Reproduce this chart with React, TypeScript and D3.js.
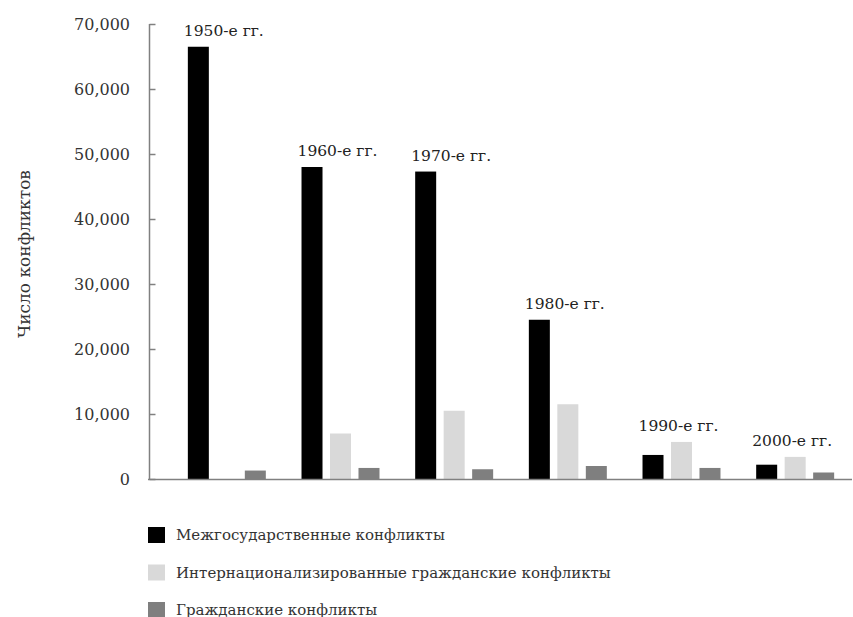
import React from "react";
import * as d3 from "d3";

const decades = ["1950-е гг.", "1960-е гг.", "1970-е гг.", "1980-е гг.", "1990-е гг.", "2000-е гг."];
const seriesNames = [
  "Межгосударственные конфликты",
  "Интернационализированные гражданские конфликты",
  "Гражданские конфликты",
];
const interstate = [66500, 48000, 47300, 24500, 3700, 2200];
const internationalized = [0, 7000, 10500, 11500, 5700, 3400];
const civil = [1300, 1700, 1500, 2000, 1700, 1000];
const yTicks = [0, 10000, 20000, 30000, 40000, 50000, 60000, 70000];
const colors = ["#000000", "#d9d9d9", "#7f7f7f"];
const yTitle = "Число конфликтов";

const W = 853;
const H = 617;
const FONT = "'DejaVu Serif', 'Liberation Serif', serif";

export default function App() {
  const series = [interstate, internationalized, civil];
  const y = d3.scaleLinear().domain([0, 70000]).range([479, 24]);
  const x0 = d3.scaleBand<string>().domain(decades).range([170, 852]).paddingInner(0.314).paddingOuter(0.157);
  const x1 = d3.scaleBand<number>().domain([0, 1, 2]).range([0, x0.bandwidth()]).paddingInner(0.263).paddingOuter(0);
  const fmt = d3.format(",");
  const axisX = 149.5;
  const baseY = 479.5;

  return (
    <svg width={W} height={H} style={{ position: "absolute", left: 0, top: 0, background: "#fff" }} fontFamily={FONT}>
      {/* Y title */}
      <text
        transform={`translate(30,254) rotate(-90)`}
        textAnchor="middle"
        fontSize={17}
        fill="#333"
      >
        {yTitle}
      </text>
      {/* Y axis */}
      <line x1={axisX} x2={axisX} y1={y(70000)} y2={baseY} stroke="#808080" strokeWidth={1.5} />
      {yTicks.map((t) => (
        <g key={t}>
          <line x1={axisX} x2={axisX + 6} y1={Math.round(y(t)) + 0.5} y2={Math.round(y(t)) + 0.5} stroke="#808080" strokeWidth={1.5} />
          <text x={130} y={y(t)} dy="0.35em" textAnchor="end" fontSize={16} fill="#333">
            {fmt(t)}
          </text>
        </g>
      ))}
      {/* bars */}
      {decades.map((d, i) => (
        <g key={d} transform={`translate(${x0(d)},0)`}>
          {series.map((s, j) =>
            s[i] > 0 ? (
              <rect key={j} x={x1(j)} y={y(s[i])} width={x1.bandwidth()} height={y(0) - y(s[i])} fill={colors[j]} />
            ) : null
          )}
        </g>
      ))}
      {/* X axis */}
      <line x1={148} x2={852} y1={baseY} y2={baseY} stroke="#808080" strokeWidth={1.5} />
      {/* decade labels */}
      {decades.map((d, i) => {
        const m = Math.max(interstate[i], internationalized[i], civil[i]);
        return (
          <text key={d} x={(x0(d) as number) + x0.bandwidth() / 2 - 3} y={y(m) - 11} textAnchor="middle" fontSize={15.5} fill="#222">
            {d}
          </text>
        );
      })}
      {/* legend */}
      {seriesNames.map((n, j) => (
        <g key={n} transform={`translate(148,${527 + j * 37.5})`}>
          <rect x={0} y={0} width={17} height={16} fill={colors[j]} />
          <text x={28} y={8} dy="0.35em" fontSize={15} fill="#333">
            {n}
          </text>
        </g>
      ))}
    </svg>
  );
}
